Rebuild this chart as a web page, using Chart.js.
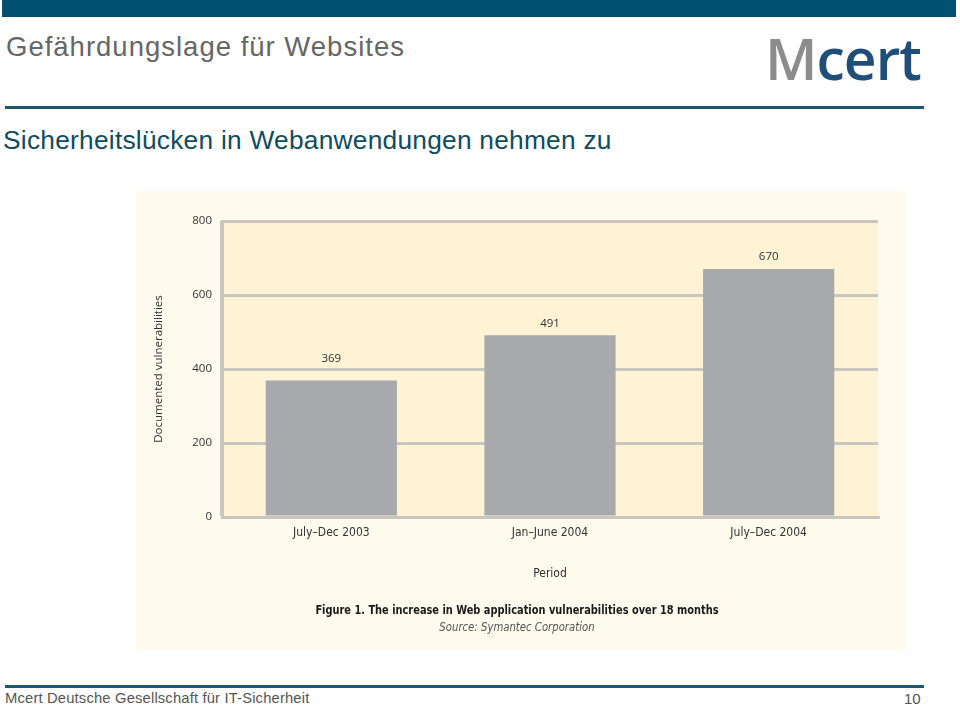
<!DOCTYPE html>
<html>
<head>
<meta charset="utf-8">
<script src="https://cdn.jsdelivr.net/npm/chart.js@4.4.1/dist/chart.umd.min.js"></script>
<style>
  html, body { margin:0; padding:0; background:#ffffff; width:960px; height:707px; overflow:hidden; position:relative; }
  .abs { position:absolute; white-space:nowrap; }
  #topbar { left:2px; top:0; width:954px; height:17px; background:#00516f; }
  #title { left:6px; top:31px; font-family:"Liberation Sans", Arial, sans-serif; font-size:27.5px; color:#666666; letter-spacing:1px; }
  #logo { left:765px; top:19px; font-family:"Open Sans", sans-serif; font-weight:600; font-size:57px; letter-spacing:-1px; }
  #logo .m { color:#8c8c8c; } #logo .c { color:#1f4e79; }
  #sep { left:5px; top:106px; width:919px; height:3px; background:#1b5a6c; }
  #subtitle { left:3px; top:125px; font-family:"Liberation Sans", Arial, sans-serif; font-size:26.3px; color:#0f4c5f; letter-spacing:0.25px; }
  #chartbox { left:136px; top:191px; width:770px; height:459px; background:#fefaed; }
  #caption { left:132px; top:602px; width:770px; text-align:center; font-family:"DejaVu Sans Condensed", sans-serif; font-weight:bold; font-size:13px; color:#1a1a1a; transform:scaleX(0.84); transform-origin:385px 0; }
  #source { left:132px; top:619px; width:770px; text-align:center; font-family:"DejaVu Sans Condensed", sans-serif; font-style:italic; font-size:12.5px; color:#555555; transform:scaleX(0.9); transform-origin:385px 0; }
  #footline { left:5px; top:685px; width:919px; height:3px; background:#1b5a6c; }
  #footer { left:5px; top:690px; font-family:"Liberation Sans", Arial, sans-serif; font-size:14.8px; color:#555555; letter-spacing:0.15px; }
  #pageno { left:904px; top:690px; font-family:"Liberation Sans", Arial, sans-serif; font-size:15px; color:#555555; }
</style>
</head>
<body>
<div class="abs" id="topbar"></div>
<div class="abs" id="title">Gefährdungslage für Websites</div>
<div class="abs" id="logo"><span class="m">M</span><span class="c">cert</span></div>
<div class="abs" id="sep"></div>
<div class="abs" id="subtitle">Sicherheitslücken in Webanwendungen nehmen zu</div>
<div class="abs" id="chartbox"><canvas id="c" width="770" height="459"></canvas></div>
<div class="abs" id="caption">Figure 1. The increase in Web application vulnerabilities over 18 months</div>
<div class="abs" id="source">Source: Symantec Corporation</div>
<div class="abs" id="footline"></div>
<div class="abs" id="footer">Mcert Deutsche Gesellschaft für IT-Sicherheit</div>
<div class="abs" id="pageno">10</div>
<script>
const categories = ["July–Dec 2003", "Jan–June 2004", "July–Dec 2004"];
const vulnerabilities = [369, 491, 670];
const yTicks = [0, 200, 400, 600, 800];

const gridColor = '#c9c6bf';

const plotBg = {
  id: 'plotBg',
  beforeDraw(chart) {
    const {ctx, chartArea: a} = chart;
    ctx.save();
    ctx.fillStyle = '#fef3d4';
    ctx.fillRect(a.left, a.top, a.right - a.left, a.bottom - a.top);
    ctx.restore();
  }
};

const valueLabels = {
  id: 'valueLabels',
  afterDatasetsDraw(chart) {
    const {ctx} = chart;
    const meta = chart.getDatasetMeta(0);
    const offs = [22, 12, 12];
    ctx.save();
    ctx.font = '11.5px "Open Sans", sans-serif';
    ctx.fillStyle = '#333333';
    ctx.textAlign = 'center';
    ctx.textBaseline = 'middle';
    meta.data.forEach((bar, i) => {
      ctx.fillText(String(chart.data.datasets[0].data[i]), bar.x, bar.y - offs[i]);
    });
    ctx.restore();
  }
};

new Chart(document.getElementById('c'), {
  type: 'bar',
  data: {
    labels: categories,
    datasets: [{
      data: vulnerabilities,
      backgroundColor: '#a8a9ad',
      borderWidth: 0,
      categoryPercentage: 1.0,
      barPercentage: 0.6
    }]
  },
  options: {
    responsive: false,
    animation: false,
    devicePixelRatio: 1,
    layout: { padding: { top: 30, right: 28, left: 0, bottom: 0 } },
    plugins: { legend: { display: false }, tooltip: { enabled: false } },
    scales: {
      x: {
        afterFit(s) { s.height = 133; },
        grid: {
          offset: true,
          drawTicks: false,
          lineWidth: 3,
          color: (ctx) => (ctx.index === 0 || ctx.index === categories.length) ? gridColor : 'rgba(0,0,0,0)'
        },
        border: { display: true, color: gridColor, width: 3 },
        ticks: {
          padding: 9,
          color: '#333333',
          font: { family: '"DejaVu Sans Condensed", sans-serif', size: 12 }
        },
        title: {
          display: true,
          text: 'Period',
          color: '#333333',
          font: { family: '"DejaVu Sans Condensed", sans-serif', size: 12 },
          padding: { top: 0, bottom: 69 }
        }
      },
      y: {
        min: 0,
        max: 800,
        afterFit(s) { s.width = 86; },
        afterBuildTicks(s) { s.ticks = yTicks.map(v => ({ value: v })); },
        grid: { drawTicks: false, lineWidth: 3, color: gridColor },
        border: { display: true, color: gridColor, width: 3 },
        ticks: {
          padding: 10,
          color: '#333333',
          font: { family: '"Open Sans", sans-serif', size: 11.5 }
        },
        title: {
          display: true,
          text: 'Documented vulnerabilities',
          color: '#333333',
          font: { family: '"Open Sans", sans-serif', size: 11.5 },
          padding: { top: 16, bottom: 0 }
        }
      }
    }
  },
  plugins: [plotBg, valueLabels]
});
</script>
</body>
</html>
